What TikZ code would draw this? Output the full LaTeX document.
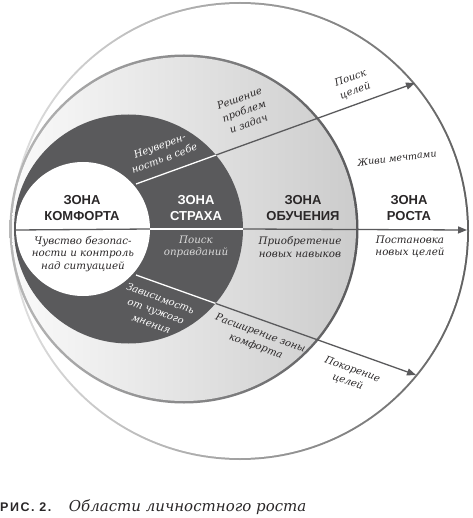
\documentclass[tikz,border=0pt]{standalone}
\usepackage{xcolor}
\usepackage{fontspec}
\setmainfont{DejaVu Serif}
\newfontfamily\zonefont{Liberation Sans}
\newfontfamily\capfont{Liberation Sans}[LetterSpace=12]
\usepackage{tikz}
\usetikzlibrary{arrows.meta, positioning}

\definecolor{darkzone}{HTML}{5A5A5C}
\definecolor{inkgray}{HTML}{2A2728}

\begin{document}
\begin{tikzpicture}[x=1pt, y=-1pt,
    zone/.style={circle, inner sep=0pt, outer sep=0pt},
    title/.style={font=\zonefont\bfseries\fontsize{13}{16}\selectfont, align=center, text=inkgray},
    note/.style={font=\itshape\fontsize{10.3}{12.5}\selectfont, align=center, text=inkgray, inner sep=1pt},
    slant/.style={note, font=\itshape\fontsize{10}{13.4}\selectfont},
    arrow/.style={-{Triangle[length=9pt, width=7pt]}, line width=1.3pt, draw=darkzone, color=darkzone},
    pale/.style={line width=1.3pt, draw=white}
]
    \useasboundingbox (0,0) rectangle (472,518);

    % Zones
    \node[zone, minimum size=458pt, left color=black!12, right color=black!62] (growthrim) at (240,231) {};
    \node[zone, minimum size=454pt, fill=white] (growth) at (240,231) {};
    \node[zone, minimum size=349pt, left color=black!28, right color=darkzone] (learnrim) at (184,229) {};
    \node[zone, minimum size=344pt, left color=black!2, right color=black!20] (learn) at (184,229) {};
    \node[zone, minimum size=229pt, fill=darkzone] (fear) at (128.5,229) {};
    \node[zone, minimum size=134pt, fill=white] (comfort) at (83,229) {};

    % Axis
    \coordinate (axisL) at (16,230);
    \coordinate (axisR) at (467,230);
    \draw[line width=1.3pt, draw=darkzone] (axisL) -- (comfort.east);
    \draw[pale] (comfort.east) -- (fear.east);
    \draw[arrow] (fear.east) -- (axisR);

    % Diagonals
    \coordinate (upS) at (136,184);
    \coordinate (upE) at (415,83);
    \coordinate (dnS) at (136,275);
    \coordinate (dnE) at (416,375);
    \draw[arrow] (upS) -- (upE);
    \draw[arrow] (dnS) -- (dnE);
    \begin{scope}
        \clip (fear.center) circle[radius=114.5];
        \draw[pale] (upS) -- (upE);
        \draw[pale] (dnS) -- (dnE);
    \end{scope}

    % Titles
    \node[title] (tcomfort) at (82,208) {ЗОНА\\КОМФОРТА};
    \node[title, text=white] (tfear) at (196,208) {ЗОНА\\СТРАХА};
    \node[title] (tlearn) at (303,208) {ЗОНА\\ОБУЧЕНИЯ};
    \node[title] (tgrowth) at (409,208) {ЗОНА\\РОСТА};

    % Notes
    \node[note] (ncomfort) at (83,254) {Чувство безопас-\\ности и контроль\\над ситуацией};
    \node[note, text=white!85!black] (nfear) at (196,247) {Поиск\\оправданий};
    \node[note] (nlearn) at (300,247) {Приобретение\\новых навыков};
    \node[note] (ngrowth) at (410,247) {Постановка\\новых целей};
    \node[slant, text=white, rotate=20] (nunsure) at (162,152) {Неуверен-\\ность в себе};
    \node[slant, rotate=20] (nsolve) at (244,111) {Решение\\проблем\\и задач};
    \node[slant, rotate=20] (ngoals) at (353,85) {Поиск\\целей};
    \node[note, rotate=7, font=\itshape\fontsize{9.5}{11}\selectfont] (ndream) at (397,158) {Живи мечтами};
    \node[slant, text=white, rotate=-20] (ndepend) at (156,311) {Зависимость\\от чужого\\мнения};
    \node[slant, rotate=-20] (nexpand) at (258,340) {Расширение зоны\\комфорта};
    \node[slant, rotate=-20] (nconquer) at (350,376) {Покорение\\целей};

    % Caption
    \node[anchor=base west, inner sep=0pt, font=\capfont\bfseries\fontsize{12.5}{14}\selectfont, text=inkgray] (figno) at (0,511) {РИС. 2.};
    \node[base right=17pt of figno, inner sep=0pt, font=\itshape\fontsize{15}{17}\selectfont, text=inkgray] (figtitle) {Области личностного роста};
\end{tikzpicture}
\end{document}
